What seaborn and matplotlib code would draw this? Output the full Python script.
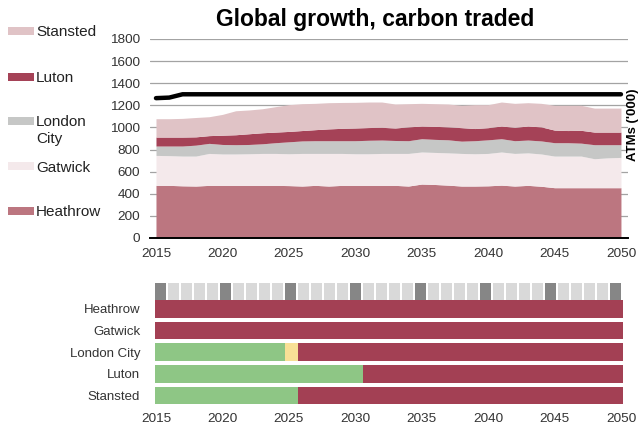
import matplotlib
matplotlib.use("Agg")
import matplotlib.pyplot as plt
import seaborn as sns
from matplotlib.patches import Rectangle

# ---------------- data ----------------
years = list(range(2015, 2051))
heathrow = [476, 476, 472, 470, 476, 476, 476, 476, 476, 476,
            474, 470, 476, 470, 476, 476, 476, 476, 476, 470,
            488, 484, 478, 470, 470, 472, 478, 470, 476, 468,
            455, 455, 455, 455, 455, 455]
gatwick = [271, 269, 269, 271, 289, 284, 284, 286, 289, 289,
           288, 295, 289, 295, 289, 286, 286, 289, 289, 295,
           290, 290, 292, 295, 292, 293, 300, 295, 294, 292,
           286, 286, 286, 262, 270, 274]
london_city = [85, 87, 91, 99, 91, 86, 84, 84, 87, 97,
               108, 113, 115, 115, 115, 118, 122, 121, 117, 115,
               120, 118, 118, 111, 118, 123, 120, 115, 116, 118,
               121, 121, 117, 127, 119, 115]
luton = [81, 81, 81, 75, 70, 84, 90, 97, 100, 96,
         94, 94, 100, 107, 112, 115, 115, 115, 113, 125,
         115, 118, 117, 122, 110, 110, 115, 121, 127, 127,
         114, 110, 116, 114, 114, 114]
stansted = [166, 166, 169, 175, 171, 188, 217, 215, 217, 230,
            242, 243, 238, 237, 234, 232, 231, 229, 217, 210,
            205, 205, 207, 202, 216, 208, 217, 217, 211, 213,
            224, 228, 226, 217, 217, 217]
capacity = [1265, 1270, 1300, 1300, 1300, 1300, 1300, 1300, 1300, 1300,
            1300, 1300, 1300, 1300, 1300, 1300, 1300, 1300, 1300, 1300,
            1300, 1300, 1300, 1300, 1300, 1300, 1300, 1300, 1300, 1300,
            1300, 1300, 1300, 1300, 1300, 1300]

series_names = ["Heathrow", "Gatwick", "London City", "Luton", "Stansted"]
legend_labels = ["Stansted", "Luton", "London\nCity", "Gatwick", "Heathrow"]

# status timeline (counts of yearly cells)
status_airports = ["Heathrow", "Gatwick", "London City", "Luton", "Stansted"]
green_cells = [0, 0, 10, 16, 11]
amber_cells = [0, 0, 1, 0, 0]
total_cells = 36
milestone_years = [2015, 2020, 2025, 2030, 2035, 2040, 2045, 2050]

x_ticks = [2015, 2020, 2025, 2030, 2035, 2040, 2045, 2050]
y_ticks = [0, 200, 400, 600, 800, 1000, 1200, 1400, 1600, 1800]

# ---------------- style ----------------
sns.set_style("white")
plt.rcParams['font.family'] = ['Liberation Sans', 'DejaVu Sans']

col = {"Heathrow": "#bc7680", "Gatwick": "#f4e9eb", "London City": "#c6c7c6",
       "Luton": "#a54257", "Stansted": "#e0c3c6"}
red, green, amber = "#a34054", "#8ec685", "#f8e096"
sq_light, sq_dark = "#d9d9d9", "#868686"
txt = "#333333"

W, H = 639, 429
fig = plt.figure(figsize=(W / 100, H / 100), dpi=100)


def axpos(l, t, r, b):
    return [l / W, 1 - b / H, (r - l) / W, (b - t) / H]


XLIM = (2014.55, 2050.53)

# ---------------- top chart ----------------
ax = fig.add_axes(axpos(150, 39, 628, 238))
ax.stackplot(years, heathrow, gatwick, london_city, luton, stansted,
             colors=[col[n] for n in series_names], lw=0, zorder=2)
sns.lineplot(x=years, y=capacity, ax=ax, color="black", lw=3.2,
             solid_capstyle="round", zorder=3)
ax.set_xlim(*XLIM)
ax.set_ylim(0, 1800)
ax.set_yticks(y_ticks)
ax.set_xticks(x_ticks)
ax.grid(axis="y", color="#a3a3a3", lw=0.9)
ax.grid(axis="x", visible=False)
ax.set_axisbelow(True)
for s in ["top", "right", "left"]:
    ax.spines[s].set_visible(False)
ax.spines["bottom"].set_color("black")
ax.spines["bottom"].set_linewidth(1.4)
ax.spines["bottom"].set_zorder(5)
ax.tick_params(axis="y", length=0, labelsize=9.7, colors=txt, pad=7)
ax.tick_params(axis="x", length=0, labelsize=9.7, colors=txt, pad=7)
ax.set_xlabel("")
ax.set_ylabel("")

# ---------------- bottom status chart ----------------
ax2 = fig.add_axes(axpos(150, 278, 628, 410))
ax2.set_xlim(*XLIM)
ax2.set_ylim(4.668, -1.415)
bar_left = 2014.92
bar_right = 2050.15
cell = (bar_right - bar_left) / total_cells

for i, name in enumerate(status_airports):
    g, a = green_cells[i], amber_cells[i]
    r = total_cells - g - a
    left = bar_left
    for n, c in [(g, green), (a, amber), (r, red)]:
        if n > 0:
            ax2.barh(i, n * cell, left=left, height=0.815, color=c, lw=0)
            left += n * cell

sq_lefts = [bar_left + (y - 2015) * cell for y in years]
sq_cols = [sq_dark if y in milestone_years else sq_light for y in years]
ax2.bar(sq_lefts, 0.76, width=0.88 * cell, bottom=-1.184, align="edge",
        color=sq_cols, lw=0)

ax2.set_yticks(range(len(status_airports)))
ax2.set_yticklabels(status_airports)
ax2.set_xticks(x_ticks)
for s in ax2.spines.values():
    s.set_visible(False)
ax2.tick_params(axis="y", length=0, labelsize=9.5, colors=txt, pad=7)
ax2.tick_params(axis="x", length=0, labelsize=9.7, colors=txt, pad=2)

# ---------------- title, side label, legend ----------------
fig.text(375 / W, 1 - 26 / H, "Global growth, carbon traded", ha="center",
         va="baseline", fontweight="bold", fontsize=16.5, color="black")
fig.text(627 / W, 1 - 125 / H, "ATMs ('000)", rotation=90, ha="left",
         va="center", fontweight="bold", fontsize=9.5, color="black")

leg_y = [31, 77, 121, 166, 211]
for lab, yc in zip(legend_labels, leg_y):
    key = lab.replace("\n", " ")
    fig.add_artist(Rectangle((8 / W, 1 - (yc + 4) / H), 26 / W, 8 / H,
                             transform=fig.transFigure, color=col[key], lw=0))
    for k, line in enumerate(lab.split("\n")):
        fig.text(36 / W, 1 - (yc + 16 * k) / H, line, ha="left",
                 va="center_baseline", fontsize=11, color="#222222")

fig.savefig("out.png", dpi=100)
